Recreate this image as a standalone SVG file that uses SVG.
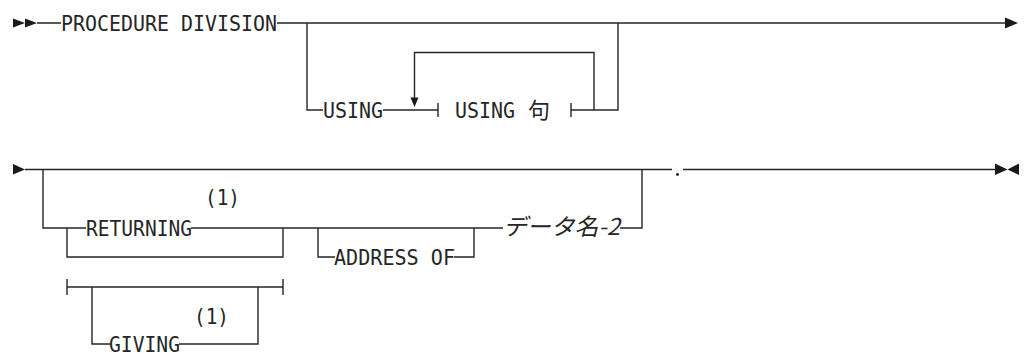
<svg xmlns="http://www.w3.org/2000/svg" width="1024" height="354" viewBox="0 0 1024 354">
<style>
.ln{fill:none;stroke:#262626;stroke-width:1.4}
.ar{fill:#1a1a1a;stroke:none}
.kw{font-family:"DejaVu Sans Mono","Liberation Mono",monospace;font-size:22px;fill:#262626}
.jp{font-family:"Noto Sans CJK JP","Noto Sans",sans-serif;fill:#262626}
</style>
<rect width="1024" height="354" fill="#fff"/>
<g id="connectors">
<path class="ln" d="M37,23 H61 M277,23 H1006"/>
<path class="ln" d="M307,23 V110 H323 M383,110 H438"/>
<path class="ln" d="M594,110 V52.5 H414.5 V99"/>
<path class="ln" d="M438,103 V117 M571,103 V117 M571,110 H618 V23"/>
<path class="ln" d="M25,169.5 H672 M683,169.5 H996"/>
<path class="ln" d="M43,169.5 V228 H86 M67,228 V257 H283 V228 M191,228 H503"/>
<path class="ln" d="M318,228 V257 H335 M454,257 H474 V228"/>
<path class="ln" d="M620,228 H642 V169.5"/>
<path class="ln" d="M67,287 H283 M67,279 V295 M283,279 V295"/>
<path class="ln" d="M92,287 V344 H110 M179,344 H258 V287"/>
</g>
<g id="arrows">
<polygon class="ar" points="13,18.5 13,27.5 25,23"/>
<polygon class="ar" points="25,18.5 25,27.5 37,23"/>
<polygon class="ar" points="1005,17.5 1005,28.5 1018,23"/>
<polygon class="ar" points="410.5,97.5 418.5,97.5 414.5,107"/>
<polygon class="ar" points="13,164 13,174.5 25,169.5"/>
<polygon class="ar" points="995,163.5 995,175 1007.5,169.5"/>
<polygon class="ar" points="1019,163.5 1019,175 1007.5,169.5"/>
<circle class="ar" cx="677.5" cy="174.5" r="1.4"/>
</g>
<g id="procedure-division"><text class="kw" x="61" y="31" textLength="216" lengthAdjust="spacingAndGlyphs">PROCEDURE DIVISION</text></g>
<g id="using"><text class="kw" x="323" y="118" textLength="60" lengthAdjust="spacingAndGlyphs">USING</text></g>
<g id="using-clause"><text class="kw" x="455" y="118" textLength="60" lengthAdjust="spacingAndGlyphs">USING</text><text class="jp" x="528" y="118" font-size="22">句</text></g>
<g id="returning"><text class="kw" x="86" y="236" textLength="106" lengthAdjust="spacingAndGlyphs">RETURNING</text><text class="kw" x="205" y="205" textLength="35" lengthAdjust="spacingAndGlyphs">(1)</text></g>
<g id="address-of"><text class="kw" x="334" y="265" textLength="121" lengthAdjust="spacingAndGlyphs">ADDRESS OF</text></g>
<g id="data-name-2"><text class="jp" x="503" y="235" font-size="23" font-style="italic" textLength="117" lengthAdjust="spacingAndGlyphs">データ名-2</text></g>
<g id="giving"><text class="kw" x="109" y="351.5" textLength="71" lengthAdjust="spacingAndGlyphs">GIVING</text><text class="kw" x="194" y="324" textLength="35" lengthAdjust="spacingAndGlyphs">(1)</text></g>
</svg>
